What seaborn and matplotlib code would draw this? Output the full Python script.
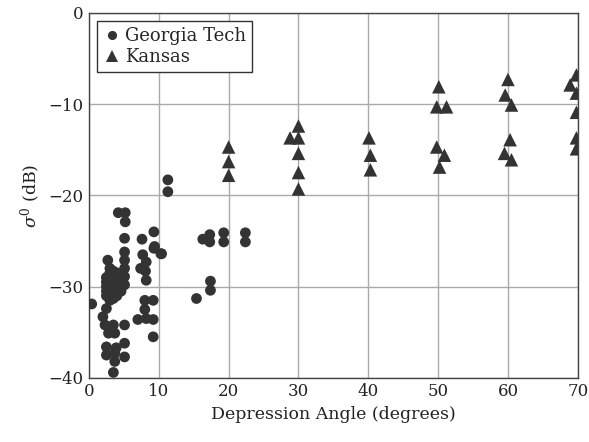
import matplotlib
matplotlib.use("Agg")
import matplotlib.pyplot as plt
import seaborn as sns
import pandas as pd

# Georgia Tech (circulos)
gt_angulo = [
    4.2, 5.2, 5.2, 5.1, 5.1, 5.1, 5.1, 5.1, 5.1,
    7.6, 9.3, 9.3, 10.3, 7.7, 8.2, 7.4, 8.1, 8.2, 2.7,
    2.5, 2.5, 2.5, 2.5, 2.5,
    3.0, 3.0, 3.0, 3.0, 3.0, 3.0, 3.0, 3.0,
    3.5, 3.5, 3.5, 3.5, 3.5, 3.5, 3.5,
    4.0, 4.0, 4.0, 4.0, 4.0, 4.0,
    4.6, 4.6, 4.6,
    0.4, 2.5, 8.0, 9.2, 8.0, 7.0, 8.2, 9.2, 9.2,
    5.1, 2.0, 2.3, 2.8, 3.7, 3.5, 5.1, 2.5, 3.9, 2.5, 3.7,
    5.1, 3.7, 3.5,
    11.3, 11.3, 9.4, 10.4, 16.3, 17.3, 17.3, 19.3, 19.3,
    22.4, 22.4, 17.4, 17.4, 15.4,
]
gt_sigma = [
    -21.9, -21.9, -22.9, -24.7, -26.2, -27.1, -28.0, -28.9, -29.8,
    -24.8, -24.0, -25.8, -26.4, -26.5, -27.3, -28.0, -28.3, -29.3, -27.1,
    -29.0, -29.5, -30.0, -30.5, -31.0,
    -28.0, -28.5, -29.0, -29.5, -30.0, -30.5, -31.0, -31.5,
    -28.3, -28.8, -29.3, -29.8, -30.3, -30.8, -31.3,
    -28.5, -29.0, -29.5, -30.0, -30.5, -31.0,
    -29.5, -30.0, -30.5,
    -31.9, -32.4, -31.5, -31.5, -32.5, -33.6, -33.5, -33.6, -35.5,
    -34.2, -33.3, -34.2, -35.1, -35.1, -34.2, -36.2, -36.6, -36.7, -37.5, -37.3,
    -37.7, -38.2, -39.4,
    -18.3, -19.6, -25.6, -26.4, -24.8, -24.3, -25.1, -24.1, -25.1,
    -24.1, -25.1, -29.4, -30.4, -31.3,
]

# Kansas (triangulos)
ks_angulo = [
    20.0, 20.0, 20.0,
    30.0, 28.8, 30.0, 30.0, 30.0, 30.0,
    40.1, 40.3, 40.3,
    50.1, 49.8, 51.2, 49.8, 50.9, 50.2,
    60.0, 59.6, 60.5, 60.3, 59.5, 60.5,
    69.8, 68.9, 69.8, 69.8, 69.8, 69.8,
]
ks_sigma = [
    -14.7, -16.3, -17.8,
    -12.4, -13.7, -13.7, -15.4, -17.5, -19.3,
    -13.7, -15.6, -17.2,
    -8.1, -10.3, -10.3, -14.7, -15.6, -16.9,
    -7.3, -9.0, -10.1, -13.9, -15.4, -16.1,
    -6.8, -7.9, -8.8, -10.9, -13.7, -14.9,
]

df = pd.DataFrame({
    "angulo": gt_angulo + ks_angulo,
    "sigma": gt_sigma + ks_sigma,
    "fuente": ["Georgia Tech"] * len(gt_angulo) + ["Kansas"] * len(ks_angulo),
})

sns.set_style("whitegrid")
plt.rcParams["font.family"] = ["DejaVu Serif"]
plt.rcParams["mathtext.fontset"] = "dejavuserif"

fig = plt.figure(figsize=(5.89, 4.42), dpi=100)
ax = fig.add_axes([0.151, 0.145, 0.830, 0.826])

sns.scatterplot(data=df, x="angulo", y="sigma", hue="fuente", style="fuente",
                size="fuente",
                markers={"Georgia Tech": "o", "Kansas": "^"},
                palette={"Georgia Tech": "#333333", "Kansas": "#333333"},
                sizes={"Georgia Tech": 60, "Kansas": 95},
                linewidth=0, ax=ax, zorder=3)

ax.set_xlim(0, 70)
ax.set_ylim(-40, 0)
ax.set_xticks(range(0, 71, 10))
ax.set_yticks(range(-40, 1, 10))
ax.grid(True, color="#aaaaaa", linewidth=1)
for lado in ax.spines.values():
    lado.set_color("#444444")
    lado.set_linewidth(1)
ax.tick_params(length=0, labelsize=12, colors="#222222", pad=4)
ax.set_xlabel("Depression Angle (degrees)", fontsize=12.5, color="#222222")
ax.set_ylabel(r"$\sigma^0$ (dB)", fontsize=12.5, color="#222222")

leg = ax.legend(loc="upper left", fontsize=13, frameon=True, fancybox=False,
                borderpad=0.35, handletextpad=0.2, labelspacing=0.15,
                handlelength=1.0, borderaxespad=0.45, markerscale=0.85)
leg.get_frame().set_edgecolor("#333333")
leg.get_frame().set_linewidth(1)
leg.get_frame().set_alpha(1)

fig.savefig("out.png", dpi=100)
